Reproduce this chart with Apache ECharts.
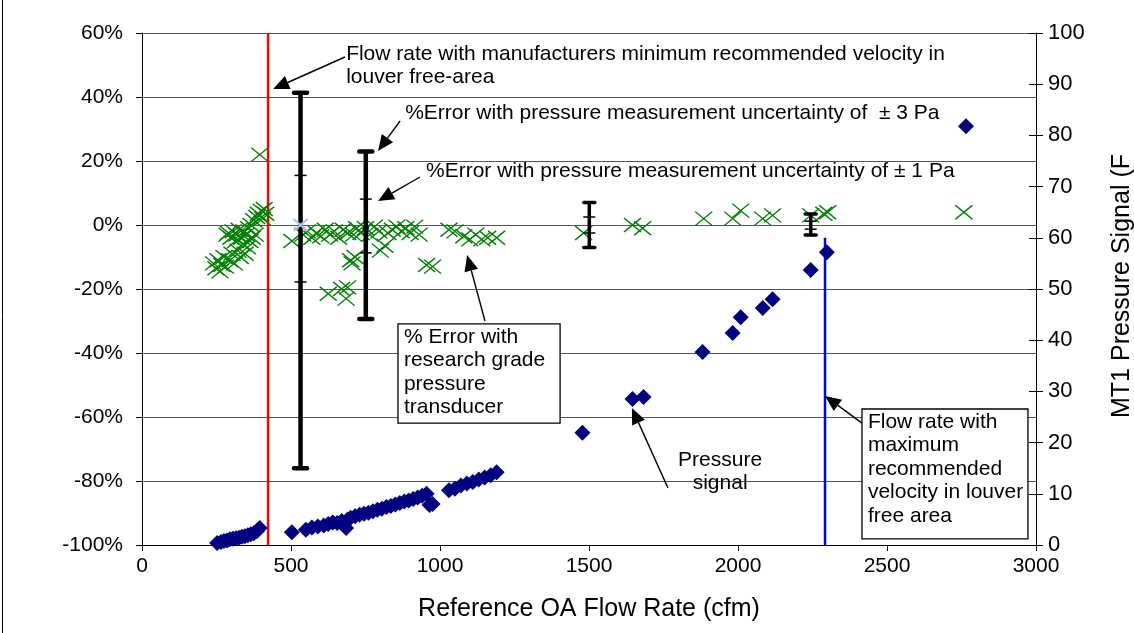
<!DOCTYPE html>
<html>
<head>
<meta charset="utf-8">
<script src="https://cdn.jsdelivr.net/npm/echarts@6/dist/echarts.min.js"></script>
<style>
html, body { margin: 0; padding: 0; background: #fff; }
#main { width: 1134px; height: 633px; }
</style>
</head>
<body>
<div id="main"></div>
<script>
// % error of the reference flow rate (green crosses), left axis
var errFlow = [240, 248, 255, 262, 268, 275, 280, 285, 290, 295, 298, 302, 306, 310, 314, 318, 322, 326, 330, 334,
  338, 342, 346, 350, 354, 358, 362, 366, 370, 375, 380, 385, 390, 395, 400, 405, 410, 415,
  503, 540, 555, 570, 585, 600, 615, 630, 645, 660, 675, 690, 700, 705, 715, 710, 720, 735, 750, 765, 780, 795,
  800, 815, 825, 840, 855, 870, 885, 900, 915, 930, 955, 975, 1030, 1050, 1080, 1100, 1120, 1140, 1160, 1190,
  625, 670, 685, 690,
  1482, 1646, 1680, 1885, 1982, 2009, 2083, 2116, 2244, 2288, 2301, 2758]
var errPct = [-12, -13.5, -11, -14.5, -12.5, -10, -13, -3, -2.5, -11, -4, -9, -2, -12, -5, -3, -8, -1.5, -10, -4,
  -6, -2, -9, -3, -7, -1, -5, 0, -4, 1.5, -3, 2.5, 3.5, 22, 4.5, 2, 5, 3.5,
  -5, -3, -2, -4, -2.5, -3.5, -1.5, -3, -2, -4, -1.5, -2.5, -11, -12, -10, -3, -1, -2.5, -1, -3, -0.5, -2,
  -8, -6.5, -2.5, -1.5, -0.5, -2, -1, -2.5, -0.5, -3, -12.5, -13, -1.5, -2, -3.5, -4.5, -3, -4.5, -4, -4,
  -21.5, -20, -23, -19.5,
  -2.5, 0, -1, 2, 2, 4.5, 2, 3, 3, 3.5, 4, 4]

// highlighted point at the first error bar
var hlFlow = [532]
var hlPct = [0]

// MT1 pressure signal (navy diamonds), right axis
var sigFlow = [252, 265, 275, 285, 295, 305, 315, 325, 335, 345, 355, 365, 375, 385, 395,
  503, 550, 570, 590, 610, 625, 640, 655, 670, 685, 690, 700, 715, 730, 745, 760, 775, 790, 805, 820,
  835, 850, 865, 880, 895, 910, 925, 940, 955, 965, 975, 1030, 1050, 1070, 1090, 1110, 1130, 1150, 1170, 1190,
  1478, 1646, 1683, 1881, 1982, 2009, 2083, 2116, 2244, 2298, 2765]
var sigPa = [0.4, 0.6, 0.8, 0.9, 1.1, 1.2, 1.3, 1.4, 1.6, 1.7, 1.9, 2.1, 2.3, 2.7, 3.3,
  2.5, 3.0, 3.4, 3.6, 3.8, 4.1, 4.4, 4.3, 4.7, 3.3, 5.0, 5.3, 5.6, 5.9, 6.1, 6.3, 6.6, 6.9, 7.1, 7.4,
  7.6, 7.9, 8.2, 8.5, 8.7, 9.0, 9.3, 9.6, 10.0, 7.8, 8.0, 10.7, 11.0, 11.6, 12.0, 12.3, 12.8, 13.2, 13.6, 14.2,
  21.9, 28.5, 28.9, 37.7, 41.4, 44.5, 46.3, 48.0, 53.7, 57.2, 81.8]

// error bars: +-3 Pa range (caps) and +-1 Pa range (small ticks), in %
var barFlow = [532, 751, 1501, 2244]
var barHi3 = [41.3, 23, 7, 3.4]
var barLo3 = [-76, -29.4, -7, -3.1]
var barHi1 = [15.5, 8.1, 2.5, 1.2]
var barLo1 = [-17.8, -8.7, -2.5, -1.3]
var midFlow = [751]
var midPct = [-1]

// recommended velocity limits (cfm)
var minFlowLine = 423
var maxFlowLine = 2292

var chart = echarts.init(document.getElementById('main'))
var font = 'Liberation Sans, Arial, sans-serif'

var errData = errFlow.map(function (f, i) { return [f, errPct[i]] })
var hlData = hlFlow.map(function (f, i) { return [f, hlPct[i]] })
var sigData = sigFlow.map(function (f, i) { return [f, sigPa[i]] })
var barData = barFlow.map(function (f, i) { return [f, barHi3[i], barLo3[i], barHi1[i], barLo1[i]] })
var midData = midFlow.map(function (f, i) { return [f, midPct[i]] })

var option = {
  animation: false,
  backgroundColor: '#fff',
  grid: { left: 142, right: 98, top: 33, bottom: 88, outerBoundsMode: 'none' },
  xAxis: {
    type: 'value', min: 0, max: 3000, interval: 500,
    name: 'Reference OA Flow Rate (cfm)', nameLocation: 'middle', nameGap: 52,
    nameTextStyle: { fontSize: 25, fontFamily: font, color: '#000' },
    axisLine: { onZero: false, lineStyle: { color: '#000', width: 1 } },
    axisTick: { length: 6, lineStyle: { color: '#000' } },
    axisLabel: { fontSize: 21, fontFamily: font, color: '#000', margin: 11, formatter: function (v) { return String(v) } },
    splitLine: { show: false }
  },
  yAxis: [{
    type: 'value', min: -100, max: 60, interval: 20,
    axisLine: { show: true, lineStyle: { color: '#000' } },
    axisTick: { show: true, length: 6, lineStyle: { color: '#000' } },
    axisLabel: { formatter: '{value}%', fontSize: 21, fontFamily: font, color: '#000', margin: 19 },
    splitLine: { lineStyle: { color: '#555', width: 1 } }
  }, {
    type: 'value', min: 0, max: 100, interval: 10, position: 'right',
    name: 'MT1 Pressure Signal (F', nameLocation: 'middle', nameGap: 74, nameRotate: 90,
    nameTextStyle: { fontSize: 25, fontFamily: font, color: '#000', padding: [0, 0, 0, 6] },
    axisLine: { show: true, lineStyle: { color: '#000' } },
    axisTick: { show: true, length: 7, lineStyle: { color: '#000' } },
    axisLabel: { fontSize: 22, fontFamily: font, color: '#000', margin: 12 },
    splitLine: { show: false }
  }, {
    // inner half of the crossing ticks on the right axis
    type: 'value', min: 0, max: 100, interval: 10, position: 'right',
    axisLine: { show: false },
    axisTick: { show: true, inside: true, length: 7, lineStyle: { color: '#000' } },
    axisLabel: { show: false },
    splitLine: { show: false }
  }],
  series: [{
    name: 'min velocity', type: 'line', yAxisIndex: 0, symbol: 'none', z: 3,
    data: [[minFlowLine, 60], [minFlowLine, -100]],
    lineStyle: { color: '#ff0000', width: 2.5 }
  }, {
    name: 'max velocity', type: 'line', yAxisIndex: 0, symbol: 'none', z: 3,
    data: [[maxFlowLine, -4], [maxFlowLine, -100]],
    lineStyle: { color: '#0000ff', width: 2.5 }
  }, {
    name: '% Error', type: 'scatter', yAxisIndex: 0, z: 4,
    symbol: 'path://M0,0L17,14M17,0L0,14', symbolSize: [17, 14],
    itemStyle: { color: 'none', borderColor: '#008000', borderWidth: 1.4, opacity: 1 },
    data: errData
  }, {
    name: 'highlight', type: 'scatter', yAxisIndex: 0, z: 7,
    symbol: 'path://M0,0L14,12M14,0L0,12', symbolSize: [14, 12],
    itemStyle: { color: 'none', borderColor: '#a9c4e4', borderWidth: 2, opacity: 1 },
    data: hlData
  }, {
    name: 'Pressure signal', type: 'scatter', yAxisIndex: 1, z: 4,
    symbol: 'diamond', symbolSize: 16,
    itemStyle: { color: '#000080', opacity: 1 },
    data: sigData
  }, {
    name: 'uncertainty', type: 'custom', yAxisIndex: 0, z: 6,
    renderItem: function (params, api) {
      var x = api.value(0)
      var hi = api.coord([x, api.value(1)])
      var lo = api.coord([x, api.value(2)])
      var h1 = api.coord([x, api.value(3)])
      var l1 = api.coord([x, api.value(4)])
      var big = params.dataIndex < 2
      var w = big ? 4.5 : 3.5
      var cap = big ? 6.5 : 5.5
      var stroke = { stroke: '#000', lineWidth: w, lineCap: 'round' }
      var thin = { stroke: '#000', lineWidth: 1.5 }
      return {
        type: 'group',
        children: [
          { type: 'line', shape: { x1: hi[0], y1: hi[1], x2: lo[0], y2: lo[1] }, style: { stroke: '#000', lineWidth: w } },
          { type: 'line', shape: { x1: hi[0] - cap, y1: hi[1], x2: hi[0] + cap, y2: hi[1] }, style: stroke },
          { type: 'line', shape: { x1: lo[0] - cap, y1: lo[1], x2: lo[0] + cap, y2: lo[1] }, style: stroke },
          { type: 'line', shape: { x1: h1[0] - 6, y1: h1[1], x2: h1[0] + 6, y2: h1[1] }, style: thin },
          { type: 'line', shape: { x1: l1[0] - 6, y1: l1[1], x2: l1[0] + 6, y2: l1[1] }, style: thin }
        ]
      }
    },
    data: barData
  }, {
    name: 'bar centre', type: 'scatter', yAxisIndex: 0, z: 7,
    symbol: 'circle', symbolSize: 6,
    itemStyle: { color: '#000', opacity: 1 },
    data: midData
  }]
}
chart.setOption(option)

// annotations, anchored in data coordinates (cfm, %)
function px(p) { return chart.convertToPixel({ xAxisIndex: 0, yAxisIndex: 0 }, p) }

function arrow(from, to) {
  var a = px(from), b = px(to)
  var dx = b[0] - a[0], dy = b[1] - a[1]
  var len = Math.sqrt(dx * dx + dy * dy)
  var ux = dx / len, uy = dy / len
  var hl = 16, hw = 7
  var bx = b[0] - ux * hl, by = b[1] - uy * hl
  return [
    { type: 'line', z: 10, shape: { x1: a[0], y1: a[1], x2: bx, y2: by }, style: { stroke: '#000', lineWidth: 1.4 } },
    { type: 'polygon', z: 10, shape: { points: [[b[0], b[1]], [bx - uy * hw, by + ux * hw], [bx + uy * hw, by - ux * hw]] }, style: { fill: '#000' } }
  ]
}

// "at" is the centre of the first line
var lh = 23.5
function label(at, text, align) {
  var p = px(at)
  return {
    type: 'text', z: 11, x: p[0], y: p[1] - lh / 2,
    style: { text: text, font: '21px ' + font, fill: '#000', align: align || 'left', verticalAlign: 'top', lineHeight: lh }
  }
}

function box(a, b) {
  var p = px(a), q = px(b)
  return {
    type: 'rect', z: 9,
    shape: { x: p[0], y: p[1], width: q[0] - p[0], height: q[1] - p[1] },
    style: { fill: '#fff', stroke: '#000', lineWidth: 1.3 }
  }
}

var g = []
g.push(label([685, 53.4], 'Flow rate with manufacturers minimum recommended velocity in\nlouver free-area'))
g = g.concat(arrow([681, 52.5], [440, 42.5]))
g.push(label([883, 35], '%Error with pressure measurement uncertainty of  \u00b1 3 Pa'))
g = g.concat(arrow([866, 32.5], [792, 23.1]))
g.push(label([953, 16.9], '%Error with pressure measurement uncertainty of \u00b1 1 Pa'))
g = g.concat(arrow([933, 15], [792, 7.5]))
g.push(box([859, -30.9], [1403, -61.9]))
g.push(label([879, -35], '% Error with\nresearch grade\npressure\ntransducer'))
g = g.concat(arrow([1151, -30], [1091, -9.4]))
g.push(label([1940, -73.4], 'Pressure\nsignal', 'center'))
g = g.concat(arrow([1765, -82.2], [1644, -57.2]))
g.push(box([2416, -57.5], [2973, -98.1]))
g.push(label([2436, -61.6], 'Flow rate with\nmaximum\nrecommended\nvelocity in louver\nfree area'))
g = g.concat(arrow([2416, -61.9], [2292, -53.4]))
// chart area border on the left edge
g.push({ type: 'line', z: 1, shape: { x1: 2.5, y1: 0, x2: 2.5, y2: 633 }, style: { stroke: '#000', lineWidth: 1 } })

chart.setOption({ graphic: g })
</script>
</body>
</html>
